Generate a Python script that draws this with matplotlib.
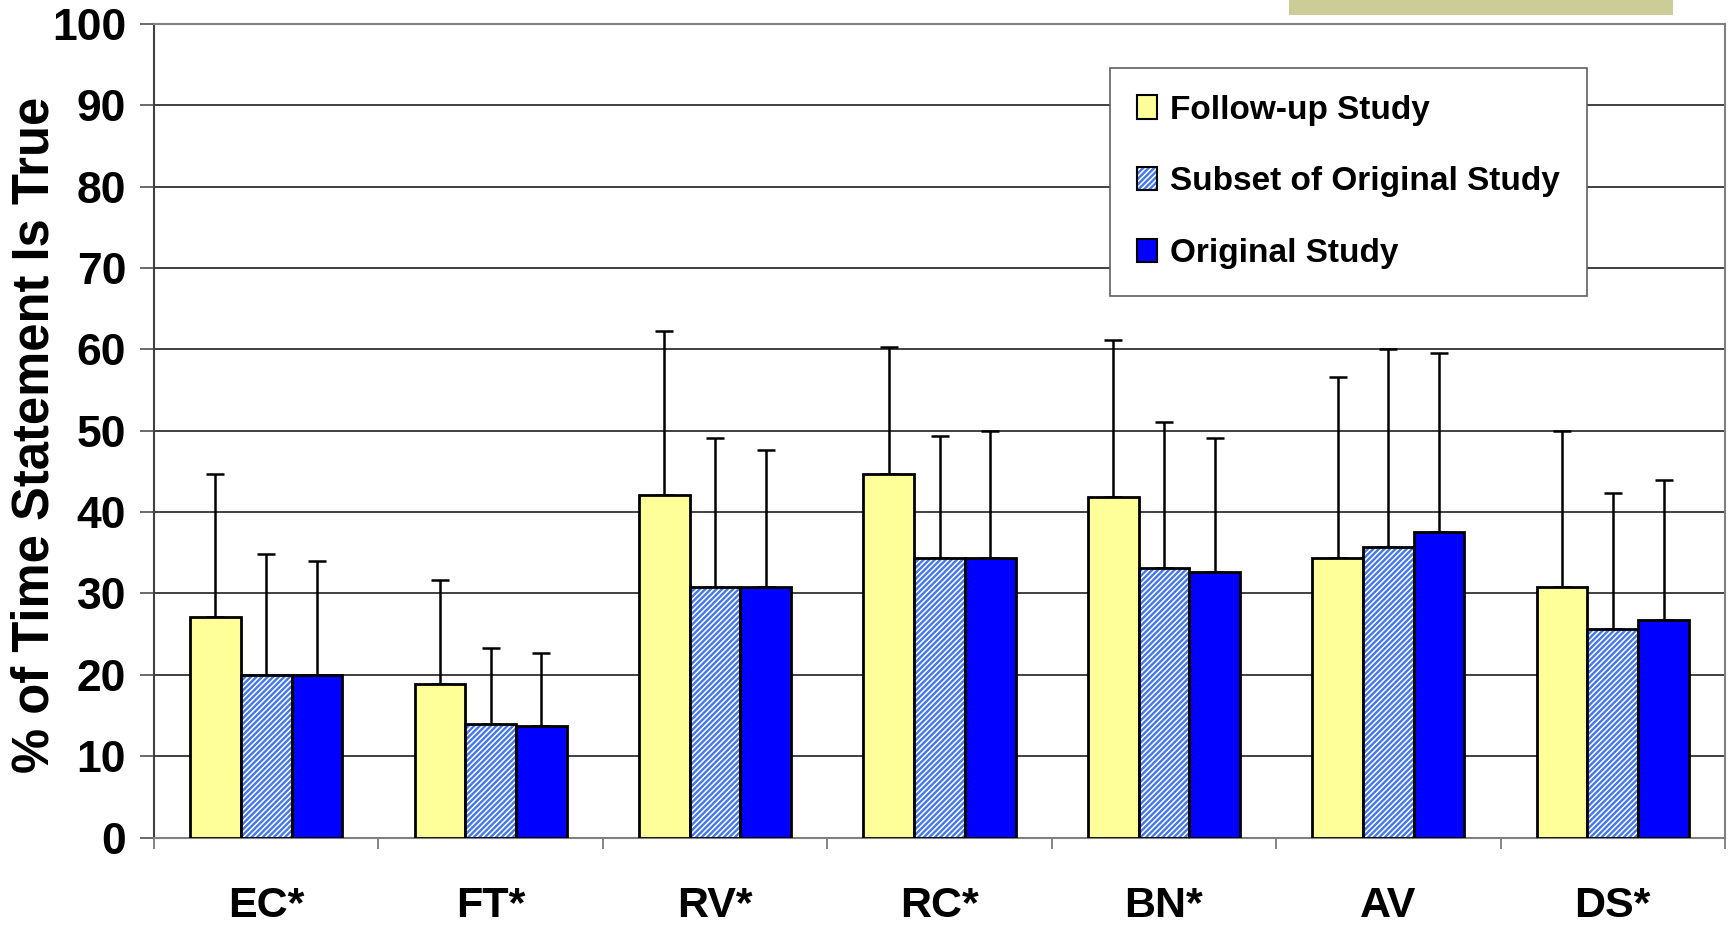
import matplotlib
matplotlib.use("Agg")
import matplotlib.pyplot as plt
from matplotlib.patches import Patch, Rectangle
from matplotlib.legend_handler import HandlerTuple
import numpy as np

categories = ["EC*", "FT*", "RV*", "RC*", "BN*", "AV", "DS*"]
follow_up = [27.1, 18.9, 42.1, 44.7, 41.8, 34.3, 30.8]
follow_up_top = [44.7, 31.7, 62.3, 60.3, 61.2, 56.6, 50.0]
subset = [20.0, 14.0, 30.8, 34.3, 33.1, 35.7, 25.6]
subset_top = [34.9, 23.3, 49.1, 49.4, 51.1, 60.1, 42.4]
original = [20.0, 13.7, 30.8, 34.3, 32.6, 37.5, 26.7]
original_top = [34.0, 22.7, 47.6, 50.0, 49.1, 59.5, 43.9]
series_names = ["Follow-up Study", "Subset of Original Study", "Original Study"]
yticks = list(range(0, 101, 10))

plt.rcParams['font.family'] = ['Liberation Sans', 'DejaVu Sans']
plt.rcParams['font.weight'] = 'bold'
plt.rcParams['hatch.linewidth'] = 1.7

fig = plt.figure(figsize=(17.28, 9.25), dpi=100)
ax = fig.add_axes([154/1728, 1-837.5/925, (1725-154)/1728, (837.5-24)/925])

x = np.arange(len(categories))
w = 0.226
yellow = '#FFFF99'
blue = '#0000FF'
hatch_blue = '#4477EE'
edge_lw = 2.0

err_kw = dict(ecolor='black', elinewidth=1.8, capsize=6.5, capthick=1.8)

def upper(vals, tops):
    v = np.array(vals); t = np.array(tops)
    return [np.zeros_like(v), t - v]

ax.bar(x - w, follow_up, w, color=yellow, edgecolor='black', linewidth=edge_lw, zorder=3)
ax.errorbar(x - w, follow_up, yerr=upper(follow_up, follow_up_top), fmt='none', zorder=2, **err_kw)

ax.bar(x, subset, w, color='white', edgecolor=hatch_blue, linewidth=0, hatch='//////', zorder=3)
ax.bar(x, subset, w, fill=False, edgecolor='black', linewidth=edge_lw, zorder=4)
ax.errorbar(x, subset, yerr=upper(subset, subset_top), fmt='none', zorder=2, **err_kw)

ax.bar(x + w, original, w, color=blue, edgecolor='black', linewidth=edge_lw, zorder=3)
ax.errorbar(x + w, original, yerr=upper(original, original_top), fmt='none', zorder=2, **err_kw)

ax.set_xlim(-0.5, len(categories) - 0.5)
ax.set_ylim(0, 100)
ax.set_yticks(yticks)
ax.set_yticklabels([str(t) for t in yticks], fontsize=32, fontweight='bold')
ax.set_xticks(x)
ax.set_xticklabels(categories, fontsize=31, fontweight='bold')
ax.tick_params(axis='x', which='major', length=0, pad=35)
ax.set_xticks(np.arange(-0.5, len(categories), 1.0), minor=True)
ax.tick_params(axis='x', which='minor', length=8, width=1.2, color='#707070', direction='out')
ax.tick_params(axis='y', length=10, width=1.2, color='#505050', pad=10)

ax.yaxis.grid(True, color='#202020', linewidth=1.2, zorder=0)
ax.set_axisbelow(True)
for s in ax.spines.values():
    s.set_color('#808080')
    s.set_linewidth(1.5)
ax.spines['left'].set_color('#404040')

fig.text(35/1728, 1-435/925, "% of Time Statement Is True", rotation=90,
         ha='center', va='center', fontsize=36.5, fontweight='bold')

# legend
h1 = Patch(facecolor=yellow, edgecolor='black', linewidth=1.5)
h2 = (Patch(facecolor='white', edgecolor=hatch_blue, linewidth=0, hatch='//////'),
      Patch(fill=False, edgecolor='black', linewidth=1.5))
h3 = Patch(facecolor=blue, edgecolor='black', linewidth=1.5)
leg = ax.legend([h1, h2, h3], series_names, loc='upper left',
                bbox_to_anchor=(1110/1728, 1-68/925), bbox_transform=fig.transFigure,
                prop=dict(size=24, weight='bold'), handlelength=0.6, handleheight=0.7,
                handletextpad=0.4, labelspacing=1.22, borderpad=0.8, borderaxespad=0,
                fancybox=False, framealpha=1, edgecolor='#606060',
                handler_map={tuple: HandlerTuple(ndivide=1)})
leg.get_frame().set_linewidth(1.2)

fig.patches.append(Rectangle((1289/1728, 1-15/925), (1673-1289)/1728, 15/925,
                             transform=fig.transFigure, facecolor='#CCCC99',
                             edgecolor='none', zorder=0))

fig.savefig("out.png", dpi=100)
